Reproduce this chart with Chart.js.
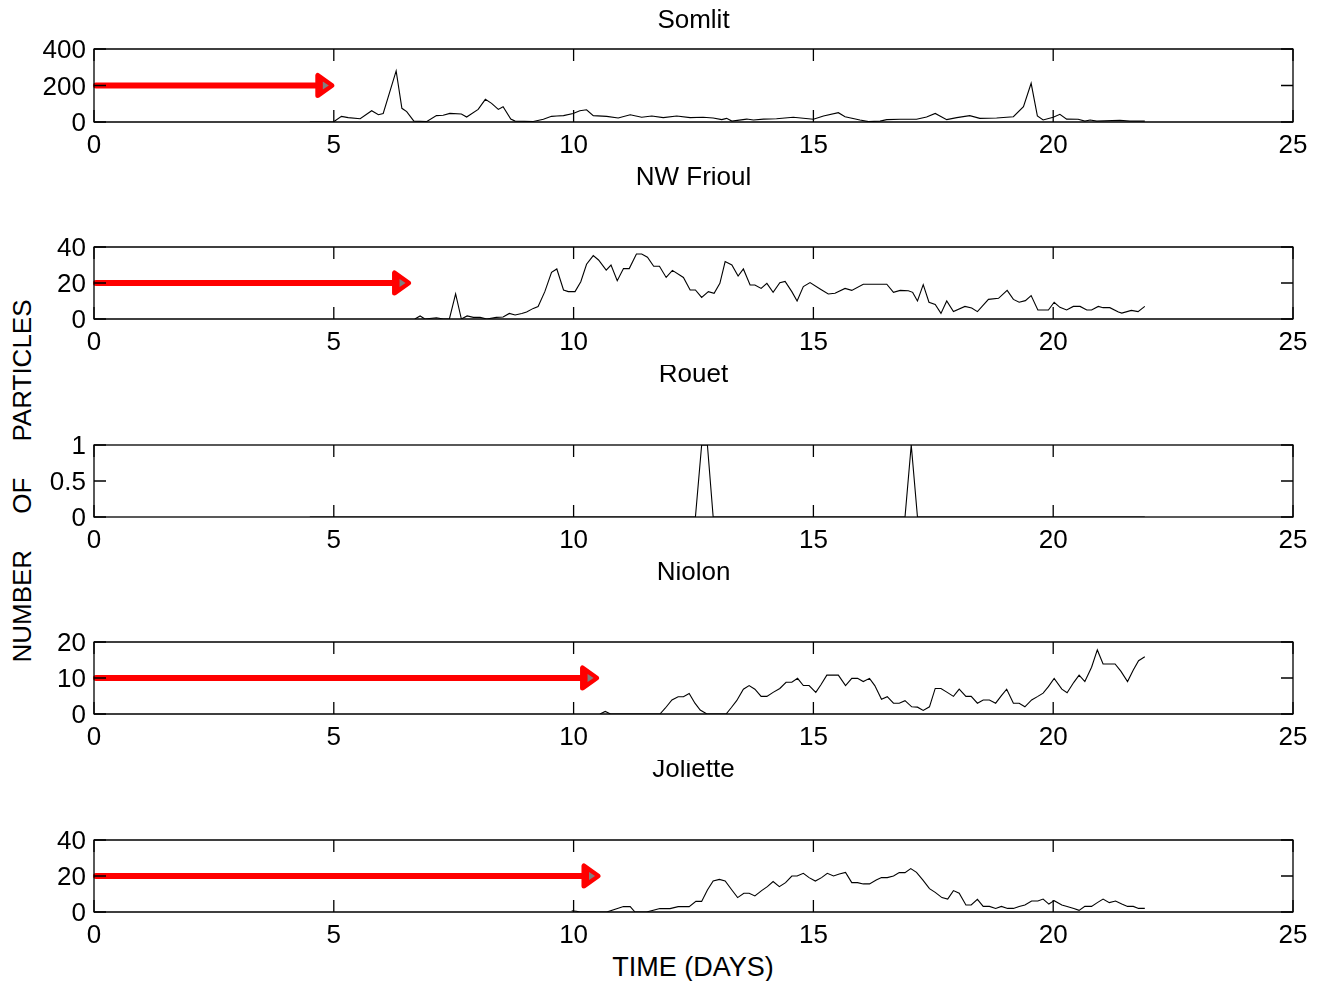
<!DOCTYPE html>
<html>
<head>
<meta charset="utf-8">
<script src="https://cdn.jsdelivr.net/npm/chart.js@4"></script>
<style>
  body { margin: 0; background: #fff; width: 1324px; height: 981px; position: relative; overflow: hidden;
         font-family: "Liberation Sans", Arial, sans-serif; }
  canvas { position: absolute; left: 0; }
  .lbl { position: absolute; color: #000; white-space: pre; transform: translate(-50%, -50%); }
  #ylab { font-size: 26px; transform: translate(-50%, -50%) rotate(-90deg); }
  #xlab { font-size: 27px; }
</style>
</head>
<body>
<div id="ylab" class="lbl" style="left:22px;top:481px">NUMBER     OF     PARTICLES</div>
<div id="xlab" class="lbl" style="left:693px;top:967px">TIME (DAYS)</div>
<script>
// [time in days, number of particles]
const somlitData = [
  [4.5, 0], [4.99, 0], [5.16, 31], [5.30, 24], [5.55, 18], [5.79, 62], [5.93, 40], [6.03, 47], [6.30, 280],
  [6.42, 75], [6.52, 57], [6.67, 5], [6.94, 3], [7.14, 35], [7.28, 37], [7.42, 47], [7.66, 44], [7.77, 27],
  [8.01, 69], [8.16, 124], [8.29, 102], [8.43, 69], [8.53, 84], [8.69, 16], [8.78, 5], [9.16, 3], [9.37, 15],
  [9.54, 31], [9.65, 33], [9.79, 35], [9.99, 47], [10.13, 62], [10.27, 67], [10.41, 35], [10.69, 31],
  [10.93, 22], [11.18, 40], [11.42, 26], [11.63, 33], [11.87, 24], [12.15, 33], [12.43, 24], [12.70, 26],
  [12.91, 22], [13.09, 13], [13.19, 20], [13.30, 5], [13.61, 16], [13.75, 11], [13.96, 16], [14.23, 18],
  [14.58, 26], [15.00, 15], [15.21, 33], [15.52, 51], [15.66, 29], [15.97, 11], [16.15, 2], [16.39, 5],
  [16.53, 13], [16.81, 15], [17.15, 15], [17.36, 27], [17.54, 47], [17.78, 13], [17.99, 24], [18.26, 35],
  [18.47, 20], [18.82, 22], [19.17, 29], [19.38, 84], [19.54, 212], [19.67, 33], [19.79, 11], [20.00, 26],
  [20.14, 42], [20.28, 16], [20.52, 15], [20.66, 5], [20.77, 11], [20.91, 5], [21.39, 9], [21.60, 5], [21.91, 5]
];

const frioulData = [
  [6.69, 0], [6.80, 1.7], [6.90, 0], [7.14, 0.7], [7.28, 0], [7.41, 0], [7.54, 13.9], [7.66, 0], [7.78, 1.7],
  [7.91, 0.9], [8.05, 0.9], [8.19, 0], [8.39, 0.9], [8.53, 1.1], [8.66, 3.1], [8.78, 2.2], [8.92, 3.1],
  [9.02, 3.9], [9.16, 5.9], [9.26, 6.9], [9.40, 15.2], [9.54, 25.9], [9.65, 27.8], [9.79, 16.1], [9.89, 15.2],
  [10.03, 15.2], [10.15, 20.7], [10.27, 30.4], [10.41, 35.2], [10.52, 32.8], [10.68, 27.2], [10.78, 30],
  [10.91, 21.3], [11.04, 28], [11.16, 28], [11.31, 36.1], [11.42, 36.1], [11.54, 34.3], [11.67, 29.3],
  [11.79, 29.3], [11.93, 23.1], [12.06, 27], [12.29, 23.1], [12.43, 16.1], [12.54, 16.1], [12.67, 12],
  [12.81, 15.2], [12.93, 14.3], [13.05, 19.8], [13.16, 31.9], [13.30, 30], [13.43, 23.9], [13.54, 27.8],
  [13.68, 18.9], [13.78, 18.9], [13.91, 17], [14.03, 19.8], [14.16, 14.8], [14.30, 20.2], [14.41, 20.9],
  [14.55, 15.2], [14.66, 10], [14.79, 18], [14.93, 20.2], [15.14, 16.7], [15.31, 13.9], [15.45, 14.3],
  [15.66, 17], [15.80, 15.9], [16.04, 19.3], [16.53, 19.3], [16.67, 14.8], [16.81, 15.9], [16.98, 15.7],
  [17.07, 14.8], [17.17, 10], [17.29, 19.1], [17.41, 9.3], [17.54, 8.1], [17.66, 3.1], [17.78, 10],
  [17.92, 4.1], [18.16, 7], [18.30, 6.1], [18.42, 4.1], [18.65, 10.9], [18.86, 11.5], [19.04, 15.9],
  [19.17, 10.9], [19.29, 9.3], [19.42, 10.2], [19.54, 13], [19.68, 5], [19.90, 5], [20.02, 9.3], [20.14, 6.5],
  [20.28, 5], [20.42, 7], [20.56, 7], [20.70, 5], [20.80, 5], [20.94, 7], [21.04, 6.3], [21.18, 6.3],
  [21.36, 3.9], [21.43, 3.3], [21.63, 4.8], [21.77, 4.1], [21.91, 7]
];

const rouetData = [
  [4.5, 0], [12.54, 0], [12.67, 1], [12.79, 1], [12.91, 0], [16.91, 0], [17.04, 1], [17.17, 0], [21.91, 0]
];

const niolonData = [
  [10.55, 0], [10.66, 0.7], [10.77, 0], [11.80, 0], [11.91, 1.6], [12.05, 3.9], [12.18, 4.8], [12.29, 4.8],
  [12.41, 5.7], [12.53, 3], [12.64, 1.1], [12.78, 0], [13.18, 0], [13.29, 1.8], [13.40, 3.7], [13.54, 6.9],
  [13.66, 7.9], [13.78, 6.9], [13.91, 4.9], [14.03, 4.9], [14.16, 6], [14.30, 7.1], [14.43, 8.8], [14.55, 8.8],
  [14.67, 9.9], [14.79, 7.9], [14.91, 7.9], [15.05, 6], [15.16, 8.2], [15.28, 10.8], [15.52, 10.8],
  [15.67, 7.9], [15.80, 9.9], [15.92, 9.9], [16.04, 9], [16.17, 9.9], [16.28, 7.9], [16.42, 4.1], [16.54, 4.8],
  [16.67, 3], [16.79, 3], [16.91, 3.7], [17.05, 2], [17.17, 1.9], [17.29, 1], [17.42, 2], [17.54, 7.1],
  [17.66, 7.1], [17.79, 6], [17.92, 4.9], [18.04, 6.9], [18.18, 4.9], [18.29, 4.9], [18.42, 3], [18.54, 3.9],
  [18.67, 3.9], [18.80, 3], [18.92, 5.1], [19.03, 6.9], [19.17, 3], [19.29, 3], [19.41, 2], [19.55, 3.9],
  [19.68, 4.9], [19.79, 5.8], [19.90, 7.6], [20.02, 9.9], [20.18, 6.9], [20.29, 5.9], [20.43, 8.8],
  [20.54, 10.8], [20.66, 9], [20.80, 13], [20.92, 17.8], [21.04, 13.9], [21.29, 13.9], [21.41, 11.9],
  [21.55, 9], [21.67, 12.2], [21.78, 14.8], [21.91, 15.9]
];

const jolietteData = [
  [9.96, 0.7], [10.06, 0.4], [10.13, 0], [10.69, 0], [11.04, 3], [11.18, 3], [11.28, 0], [11.52, 0],
  [11.80, 1.9], [12.01, 1.9], [12.18, 3], [12.41, 3], [12.55, 5.9], [12.67, 5.9], [12.79, 12.2], [12.91, 17.2],
  [13.04, 18.1], [13.16, 17.2], [13.30, 12.2], [13.42, 8], [13.55, 10.4], [13.66, 10.4], [13.78, 8.9],
  [13.92, 11.9], [14.04, 14.1], [14.16, 16.9], [14.29, 14.1], [14.42, 16.3], [14.55, 20], [14.66, 20],
  [14.79, 21.5], [14.91, 19.1], [15.04, 17.2], [15.17, 19.1], [15.29, 21.5], [15.42, 20], [15.54, 21.1],
  [15.67, 22], [15.80, 16.3], [15.92, 16.3], [16.04, 15.6], [16.17, 15.6], [16.31, 17.8], [16.42, 19.1],
  [16.54, 19.1], [16.67, 20], [16.79, 21.9], [16.91, 21.9], [17.03, 24.1], [17.15, 22], [17.28, 17.8],
  [17.42, 13], [17.54, 10.9], [17.68, 8], [17.80, 7.2], [17.92, 11.9], [18.04, 10.4], [18.18, 3.9],
  [18.29, 3.9], [18.42, 7], [18.54, 3.1], [18.67, 3.1], [18.80, 2], [18.92, 3.1], [19.05, 2], [19.17, 2],
  [19.29, 3.1], [19.41, 3.9], [19.55, 6.1], [19.68, 6.1], [19.79, 7.2], [19.91, 4.4], [20.02, 6.3],
  [20.18, 3.9], [20.29, 3.1], [20.43, 2], [20.54, 0.9], [20.66, 3.1], [20.80, 3.1], [20.92, 5.2], [21.04, 7.2],
  [21.17, 5.2], [21.30, 6.1], [21.43, 4.4], [21.55, 3.1], [21.67, 3.1], [21.78, 2], [21.91, 2]
];

const stationNames = ["Somlit", "NW Frioul", "Rouet", "Niolon", "Joliette"];
const yMaxes = [400, 40, 1, 20, 40];
const ySteps = [200, 20, 0.5, 10, 20];
// red arrows: end time (days) and level, null = no arrow
const arrowEnds = [5.0, 6.6, null, 10.52, 10.55];
const arrowLevels = [200, 20, null, 10, 20];

const allData = [somlitData, frioulData, rouetData, niolonData, jolietteData];

// layout of the panels on the page
const plotTops = [49, 247, 445, 642, 840];
const plotHeights = [73, 72, 72, 72, 72];
const titleGaps = [28, 69, 70, 69, 70];
const topPad = 80, bottomRoom = 40;

const font = "'Liberation Sans', Arial, sans-serif";

const matlabPlugin = {
  id: "matlab",
  afterDatasetsDraw(chart, args, opts) {
    const ctx = chart.ctx;
    const a = chart.chartArea;
    const xs = chart.scales.x, ys = chart.scales.y;
    ctx.save();

    // arrow
    if (opts.arrowEnd != null) {
      const x0 = xs.getPixelForValue(0) + 2;
      const x1 = xs.getPixelForValue(opts.arrowEnd);
      const y = ys.getPixelForValue(opts.arrowLevel);
      ctx.strokeStyle = "#ff0000";
      ctx.fillStyle = "#ff0000";
      ctx.lineCap = "round";
      ctx.lineJoin = "round";
      ctx.lineWidth = 6;
      ctx.beginPath();
      ctx.moveTo(x0, y);
      ctx.lineTo(x1 - 14, y);
      ctx.stroke();
      ctx.lineWidth = 5;
      ctx.beginPath();
      ctx.moveTo(x1 - 2, y);
      ctx.lineTo(x1 - 16, y - 10);
      ctx.lineTo(x1 - 16, y + 10);
      ctx.closePath();
      ctx.fill();
      ctx.stroke();
      ctx.fillStyle = "#808080";
      ctx.beginPath();
      ctx.moveTo(x1 - 5, y);
      ctx.lineTo(x1 - 11, y - 4);
      ctx.lineTo(x1 - 11, y + 4);
      ctx.closePath();
      ctx.fill();
    }

    // box and inward ticks
    ctx.strokeStyle = "#000";
    ctx.lineWidth = 1.3;
    ctx.lineCap = "butt";
    ctx.strokeRect(a.left, a.top, a.right - a.left, a.bottom - a.top);
    const tl = 12;
    ctx.beginPath();
    xs.ticks.forEach(t => {
      const px = xs.getPixelForValue(t.value);
      ctx.moveTo(px, a.bottom); ctx.lineTo(px, a.bottom - tl);
      ctx.moveTo(px, a.top); ctx.lineTo(px, a.top + tl);
    });
    ys.ticks.forEach(t => {
      const py = ys.getPixelForValue(t.value);
      ctx.moveTo(a.left, py); ctx.lineTo(a.left + tl, py);
      ctx.moveTo(a.right, py); ctx.lineTo(a.right - tl, py);
    });
    ctx.stroke();

    // title
    ctx.fillStyle = "#000";
    ctx.font = "26px " + font;
    ctx.textAlign = "center";
    ctx.textBaseline = "middle";
    ctx.fillText(opts.title, (a.left + a.right) / 2, a.top - opts.titleGap);
    ctx.restore();
  }
};

stationNames.forEach((name, i) => {
  const h = topPad + plotHeights[i] + bottomRoom;
  const canvas = document.createElement("canvas");
  canvas.width = 1324;
  canvas.height = h;
  canvas.style.top = (plotTops[i] - topPad) + "px";
  document.body.appendChild(canvas);

  new Chart(canvas, {
    type: "line",
    data: {
      datasets: [{
        data: allData[i].map(p => ({ x: p[0], y: p[1] })),
        borderColor: "#000",
        borderWidth: 1.1,
        pointRadius: 0,
        tension: 0,
        fill: false
      }]
    },
    options: {
      responsive: false,
      animation: false,
      devicePixelRatio: 1,
      layout: { padding: { left: 0, right: 31, top: topPad, bottom: 0 } },
      plugins: {
        legend: { display: false },
        tooltip: { enabled: false },
        matlab: {
          title: name,
          titleGap: titleGaps[i],
          arrowEnd: arrowEnds[i],
          arrowLevel: arrowLevels[i]
        }
      },
      scales: {
        x: {
          type: "linear",
          min: 0,
          max: 25,
          grid: { display: false, drawTicks: false },
          border: { display: false },
          ticks: { stepSize: 5, color: "#000", padding: 8, font: { size: 26, family: font }, maxRotation: 0 },
          afterFit: s => { s.height = bottomRoom; }
        },
        y: {
          min: 0,
          max: yMaxes[i],
          grid: { display: false, drawTicks: false },
          border: { display: false },
          ticks: {
            stepSize: ySteps[i], color: "#000", padding: 8, labelOffset: 2, font: { size: 26, family: font },
            callback: v => String(v)
          },
          afterFit: s => { s.width = 94; }
        }
      }
    },
    plugins: [matlabPlugin]
  });
});
</script>
</body>
</html>
